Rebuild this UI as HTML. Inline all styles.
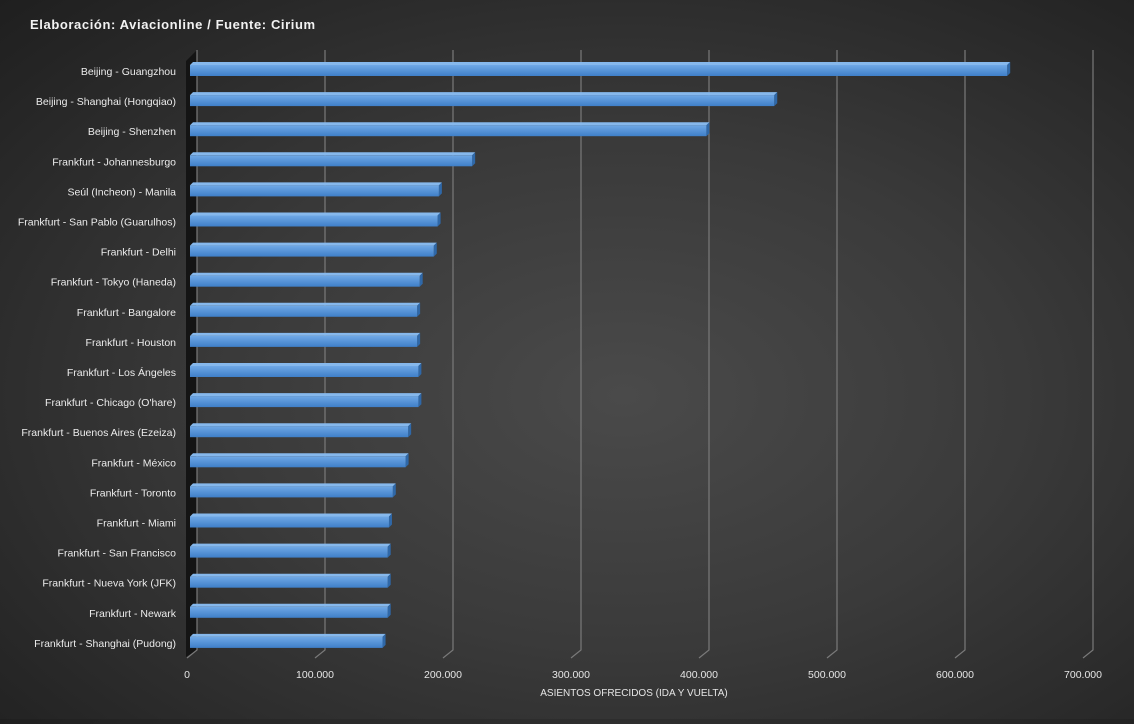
<!DOCTYPE html>
<html><head><meta charset="utf-8"><style>
html,body{margin:0;padding:0}
body{width:1134px;height:719px;overflow:hidden;background:radial-gradient(ellipse at 55% 55%,#4a4a4a 0%,#3a3a3a 45%,#262626 85%,#1f1f1f 100%);font-family:"Liberation Sans",sans-serif}
svg text{font-family:"Liberation Sans",sans-serif}
</style></head><body>
<svg id="chart" width="1134" height="719" xmlns="http://www.w3.org/2000/svg">
<defs>
<linearGradient id="bf" x1="0" y1="0" x2="0" y2="1"><stop offset="0" stop-color="#6fa8e6"/><stop offset="1" stop-color="#3f7fc8"/></linearGradient>
</defs>
<text x="30" y="29" fill="#f2f2f2" font-size="13" font-weight="bold" letter-spacing="0.6">Elaboración:  Aviacionline  / Fuente: Cirium</text>
<g id="grid"></g><g id="bars"></g><g id="labels"></g><g id="ticks"></g>
<text x="634" y="696" fill="#e6e6e6" font-size="10" text-anchor="middle">ASIENTOS OFRECIDOS (IDA Y VUELTA)</text>
</svg>
<script>
const categories=["Beijing - Guangzhou","Beijing - Shanghai (Hongqiao)","Beijing - Shenzhen","Frankfurt - Johannesburgo","Seúl (Incheon) - Manila","Frankfurt - San Pablo (Guarulhos)","Frankfurt - Delhi","Frankfurt - Tokyo (Haneda)","Frankfurt - Bangalore","Frankfurt - Houston","Frankfurt - Los Ángeles","Frankfurt - Chicago (O'hare)","Frankfurt - Buenos Aires (Ezeiza)","Frankfurt - México","Frankfurt - Toronto","Frankfurt - Miami","Frankfurt - San Francisco","Frankfurt - Nueva York (JFK)","Frankfurt - Newark","Frankfurt - Shanghai (Pudong)"];
const seats=[640000,458000,405000,222000,196000,195000,192000,181000,179000,179000,180000,180000,172000,170000,160000,157000,156000,156000,156000,152000];
const tickValues=[0,100000,200000,300000,400000,500000,600000,700000];
const tickLabels=["0","100.000","200.000","300.000","400.000","500.000","600.000","700.000"];
const NS="http://www.w3.org/2000/svg";
function mk(t,a,p){const e=document.createElementNS(NS,t);for(const k in a)e.setAttribute(k,a[k]);p.appendChild(e);return e;}
const xFront=v=>188+v*0.00128, xBack=v=>197+v*0.00128;
const yRow=i=>69+i*30.1;
const grid=document.getElementById('grid'),bars=document.getElementById('bars'),labels=document.getElementById('labels'),ticks=document.getElementById('ticks');
// left wall
const wall=mk('polygon',{points:"186,657 186,61 197,50 197,650",fill:"#141414"},grid);


tickValues.forEach((v,i)=>{
 const g=mk('path',{d:`M${xBack(v)} 50 V650 L${xFront(v)-1} 658`,stroke:"#7a7a7a","stroke-width":1.2,fill:"none"},grid);
 
 
 const t=mk('text',{x:xFront(v)-1,y:678,fill:"#e6e6e6","font-size":10.5,"text-anchor":"middle"},ticks);
 t.textContent=tickLabels[i];
 
 
});
categories.forEach((c,i)=>{
 const y=yRow(i), x0=190, x1=xFront(seats[i]);
 const g=mk('g',{},bars);
 
 
 mk('polygon',{points:`${x0},${y-4} ${x0+3},${y-7} ${x1+3},${y-7} ${x1},${y-4}`,fill:"#86b8ec"},g);
 mk('polygon',{points:`${x1},${y-4} ${x1+3},${y-7} ${x1+3},${y+4} ${x1},${y+7}`,fill:"#2f68a8"},g);
 mk('rect',{x:x0,y:y-4,width:x1-x0,height:11,fill:"url(#bf)"},g);
 const t=mk('text',{x:176,y:y+6,fill:"#ececec","font-size":10.5,"text-anchor":"end"},labels);
 t.textContent=c;
 
 
});
</script>
</body></html>
